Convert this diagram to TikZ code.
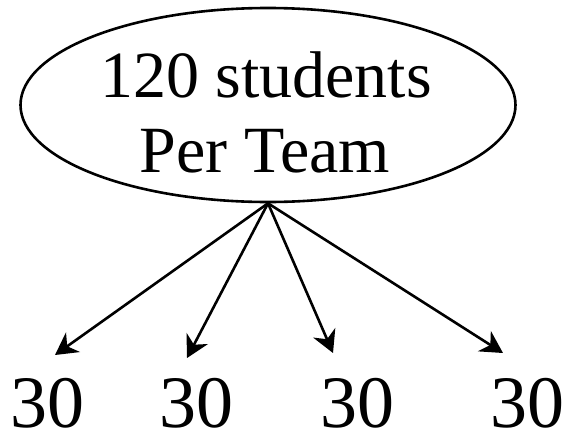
\documentclass[tikz,border=0pt]{standalone}
\usepackage{fontspec}
\setmainfont{Liberation Serif}
\usetikzlibrary{shapes.geometric,arrows.meta}
\begin{document}
\begin{tikzpicture}[x=1pt,y=-1pt,
  ink/.style={line width=2.6pt,black},
  bubble/.style={ink,draw,ellipse,inner sep=0pt,minimum width=495pt,minimum height=194pt},
  headline/.style={inner sep=0pt,anchor=base,font=\fontsize{66}{70}\selectfont},
  share/.style={inner sep=0pt,anchor=base,font=\fontsize{74}{80}\selectfont},
  split/.style={ink,-{Stealth[length=22pt,width=24pt,inset=7pt]}}]
  \useasboundingbox (0,0) rectangle (575,442);
  % team bubble with its two-line caption
  \node[bubble] (team) at (268,105) {};
  \node[headline] (line1) at (266,97) {120 students};
  \node[headline] (line2) at (265,172) {Per Team};
  % arrow tips
  \coordinate (t1) at (55,355);
  \coordinate (t2) at (187,358);
  \coordinate (t3) at (333,353);
  \coordinate (t4) at (503,353);
  \foreach \i in {1,...,4}{\draw[split] (team.south) -- (t\i);}
  % the four groups
  \node[share] (g1) at (47,427) {30};
  \node[share] (g2) at (196,427) {30};
  \node[share] (g3) at (357,427) {30};
  \node[share] (g4) at (527,427) {30};
\end{tikzpicture}
\end{document}
